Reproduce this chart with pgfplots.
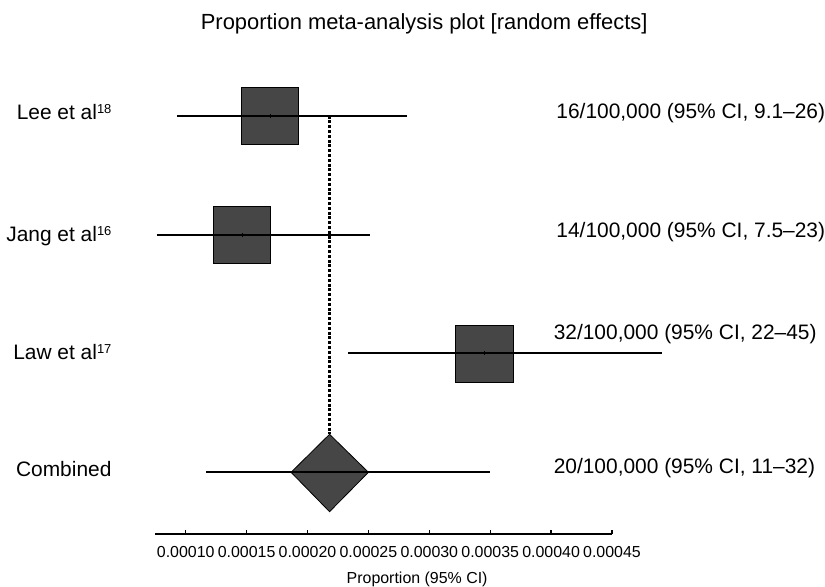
\documentclass[border=0pt]{standalone}
\usepackage{pgfplots}
\pgfplotsset{compat=1.18}
\usepackage{fontspec}
\setmainfont{Liberation Sans}
\definecolor{boxfill}{RGB}{70,70,70}
\newcommand\lab{\fontsize{21}{24}\selectfont}
\newcommand\supr[1]{\raisebox{0.55ex}{\fontsize{13}{14}\selectfont #1}}
\newcommand\tl[1]{\mbox{\fontsize{16}{19}\selectfont #1}}
\begin{document}
\begin{tikzpicture}
\path[use as bounding box] (0,0) rectangle (825bp,587bp);
\begin{axis}[
  at={(155bp,53bp)}, anchor=south west,
  scale only axis, width=457bp, height=454bp,
  xmin=0.00007478, xmax=0.00045, ymin=53, ymax=507,
  axis x line=bottom, axis y line=none,
  x axis line style={-, line width=1.3pt},
  xtick={0.0001,0.00015,0.0002,0.00025,0.0003,0.00035,0.0004,0.00045},
  xticklabels={\tl{0.00010},\tl{0.00015},\tl{0.00020},\tl{0.00025},\tl{0.00030},\tl{0.00035},\tl{0.00040},\tl{0.00045}},
  scaled x ticks=false,
  tick align=inside, major tick length=4bp,
  tick style={line width=1.3pt, black},
  xticklabel style={yshift=-9bp},
  ytick=\empty,
  clip=false,
]
% boxes
\addplot[fill=boxfill, draw=black, line width=0.8pt] coordinates {(0.000146,443)(0.0001927,443)(0.0001927,499.7)(0.000146,499.7)} -- cycle;
\addplot[fill=boxfill, draw=black, line width=0.8pt] coordinates {(0.0001227,323.7)(0.0001698,323.7)(0.0001698,381)(0.0001227,381)} -- cycle;
\addplot[fill=boxfill, draw=black, line width=0.8pt] coordinates {(0.0003218,204.7)(0.0003692,204.7)(0.0003692,262)(0.0003218,262)} -- cycle;
\addplot[fill=boxfill, draw=black, line width=0.8pt] coordinates {(0.0001865,114.7)(0.0002181,152.7)(0.00025,114.7)(0.0002181,75.3)} -- cycle;
% CI lines
\addplot[black, line width=1.8bp] coordinates {(0.0000931,471.3)(0.0002816,471.3)};
\addplot[black, line width=1.8bp] coordinates {(0.0000762,352)(0.0002514,352)};
\addplot[black, line width=1.8bp] coordinates {(0.0002336,234)(0.0004911,234)};
\addplot[black, line width=1.8bp] coordinates {(0.0001167,114.7)(0.00035,114.7)};
% centre marks
\addplot[only marks, mark=|, mark size=2bp, mark options={line width=1.2bp}] coordinates {(0.0001693,471.3)(0.0001463,352)(0.0003455,234)};
% combined estimate line
\addplot[black, line width=3bp, dash pattern=on 3bp off 1.8bp] coordinates {(0.000218,471.3)(0.000218,152.7)};
% texts
\node[anchor=base east, font=\lab] at (axis cs:0.0000419,467) {Lee et al\supr{18}};
\node[anchor=base east, font=\lab] at (axis cs:0.0000419,345) {Jang et al\supr{16}};
\node[anchor=base east, font=\lab] at (axis cs:0.0000419,227) {Law et al\supr{17}};
\node[anchor=base east, font=\lab] at (axis cs:0.0000419,110) {Combined};
\node[anchor=base west, font=\lab] at (axis cs:0.0004015,468) {16/100,000 (95\% CI, 9.1--26)};
\node[anchor=base west, font=\lab] at (axis cs:0.0004015,349) {14/100,000 (95\% CI, 7.5--23)};
\node[anchor=base west, font=\lab] at (axis cs:0.0003993,247) {32/100,000 (95\% CI, 22--45)};
\node[anchor=base west, font=\lab] at (axis cs:0.0003993,113) {20/100,000 (95\% CI, 11--32)};
\node[anchor=base, font=\fontsize{22}{26}\selectfont] at (axis cs:0.0002958,557) {Proportion meta-analysis plot [random effects]};
\node[anchor=base, font=\fontsize{16}{19}\selectfont] at (axis cs:0.00029,4) {Proportion (95\% CI)};
\end{axis}
\end{tikzpicture}
\end{document}
